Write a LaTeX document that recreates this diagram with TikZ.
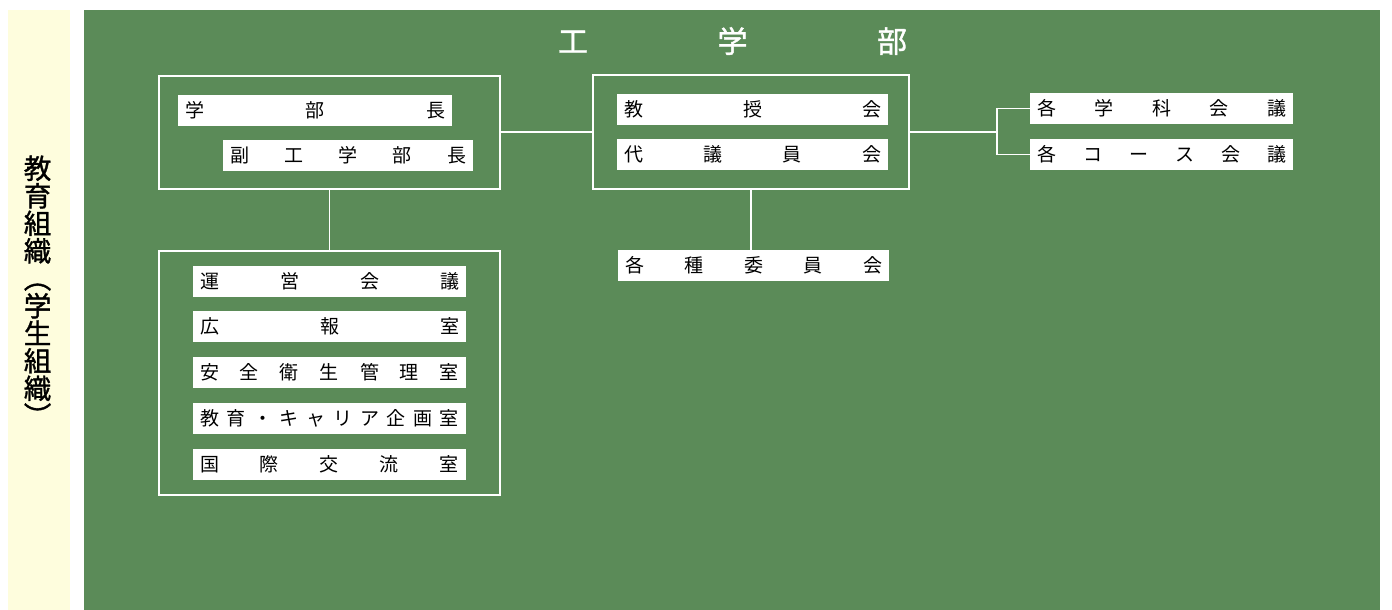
\documentclass[tikz,border=0pt]{standalone}
\usepackage{fontspec}
\newfontfamily\jp{Noto Sans CJK JP}
\newfontfamily\jpb[FakeBold=1.2]{Noto Sans CJK JP}
\newfontfamily\jpv[RawFeature={vertical;+vert;+vrt2}, FakeBold=1.2]{Noto Sans CJK JP}
\definecolor{board}{RGB}{91,139,88}
\definecolor{pale}{RGB}{254,253,221}
\tikzset{
  item/.style={fill=white, inner xsep=7pt, inner ysep=0pt, minimum height=31pt,
    font=\jp\fontsize{19}{19}\selectfont, text=black, anchor=center},
  grp/.style={draw=white, line width=1.8pt, inner sep=0pt},
  wire/.style={draw=white, line width=1.8pt},
}
\begin{document}
\begin{tikzpicture}[x=1pt,y=-1pt]
\useasboundingbox (0,0) rectangle (1392,610);
\fill[white] (0,0) rectangle (1392,610);
\fill[pale] (8,10) rectangle (70,610);
\fill[board] (84,10) rectangle (1380,610);

% side label (vertical setting)
\node[inner sep=0pt, rotate=-90] (side) at (48,292)
  {\jpv\fontsize{27.5}{27.5}\selectfont 教育組織（学生組織）};

% title
\node[font=\jpb\fontsize{30}{30}\selectfont, text=white, inner sep=0pt] (title) at (732.5,41)
  {\hbox to 349pt{工\hfill 学\hfill 部}};

% groups
\node[grp, minimum width=341pt, minimum height=113pt] (gA) at (329.5,132.5) {};
\node[grp, minimum width=316pt, minimum height=114pt] (gB) at (751,132) {};
\node[grp, minimum width=341pt, minimum height=244pt] (gC) at (329.5,373) {};

% items in A
\node[item] (dean) at (315,110.5) {\hbox to 260pt{学\hfill 部\hfill 長}};
\node[item] (vdean) at (348,155.5) {\hbox to 236pt{副\hfill 工\hfill 学\hfill 部\hfill 長}};

% items in B
\node[item] (prof) at (752.5,109) {\hbox to 257pt{教\hfill 授\hfill 会}};
\node[item] (deleg) at (752.5,154.5) {\hbox to 257pt{代\hfill 議\hfill 員\hfill 会}};
\node[item] (comm) at (753.5,265.5) {\hbox to 257pt{各\hfill 種\hfill 委\hfill 員\hfill 会}};

% right items
\node[item] (dept) at (1161.5,108.5) {\hbox to 249pt{各\hfill 学\hfill 科\hfill 会\hfill 議}};
\node[item] (course) at (1161.5,154.5) {\hbox to 249pt{各\hfill コ\hfill ー\hfill ス\hfill 会\hfill 議}};

% items in C
\node[item] (mgmt) at (329.5,281) {\hbox to 259pt{運\hfill 営\hfill 会\hfill 議}};
\node[item] (pr) at (329.5,326.5) {\hbox to 259pt{広\hfill 報\hfill 室}};
\node[item] (safety) at (329.5,372) {\hbox to 259pt{安\hfill 全\hfill 衛\hfill 生\hfill 管\hfill 理\hfill 室}};
\node[item] (career) at (329.5,418.5) {\hbox to 259pt{教\hfill 育\hfill ・\hfill キ\hfill ャ\hfill リ\hfill ア\hfill 企\hfill 画\hfill 室}};
\node[item] (intl) at (329.5,464.5) {\hbox to 259pt{国\hfill 際\hfill 交\hfill 流\hfill 室}};

% connectors
\coordinate (j) at (997,132);
\draw[wire] (gA.east |- gB.west) -- (gB.west);
\draw[wire] (gA.south) -- (gC.north);
\draw[wire] (gB.south) -- (gB.south |- comm.north);
\draw[wire] (gB.east) -- (j);
\draw[wire] (dept.west) -- (dept.west -| j) -- (course.west -| j) -- (course.west);
\end{tikzpicture}
\end{document}
